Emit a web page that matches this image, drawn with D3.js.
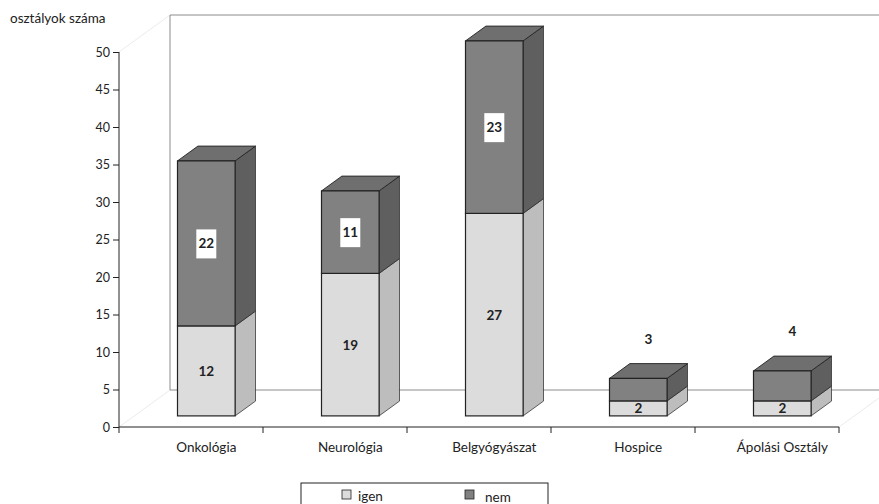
<!DOCTYPE html>
<html>
<head>
<meta charset="utf-8">
<script src="https://cdn.jsdelivr.net/npm/d3@7"></script>
<style>
  body { margin: 0; background: #fff; }
  svg { display: block; font-family: Lato, "Open Sans", sans-serif; }
</style>
</head>
<body>
<svg id="chart" width="879" height="504"></svg>
<script>
// data
var categories = ["Onkológia", "Neurológia", "Belgyógyászat", "Hospice", "Ápolási Osztály"]
var igen = [12, 19, 27, 2, 2]
var nem = [22, 11, 23, 3, 4]
var yTicks = [0, 5, 10, 15, 20, 25, 30, 35, 40, 45, 50]
var seriesNames = ["igen", "nem"]

var svg = d3.select("#chart")

// plot frame (front plane) and 3d depth
var pl = 119, pr = 839, pt = 52, pb = 427
var depth = { dx: 51, dy: -37 }
// bars sit between 0.3 and 0.7 of the depth
var barOff = { dx: depth.dx * 0.3, dy: depth.dy * 0.3 }
var barDepth = { dx: depth.dx * 0.4, dy: depth.dy * 0.4 }

var x = d3.scaleBand().domain(categories).range([pl, pr])
var y = d3.scaleLinear().domain([0, 50]).range([pb, pt])
var barW = x.bandwidth() * 0.4

var col = {
  igen: { front: "#dcdcdc", side: "#bdbdbd", top: "#c8c8c8" },
  nem: { front: "#818181", side: "#5f5f5f", top: "#6f6f6f" }
}

// walls
var bx = pl + depth.dx, byTop = y(50) + depth.dy, byBot = y(0) + depth.dy
svg.append("line").attr("x1", pl).attr("y1", y(50)).attr("x2", bx).attr("y2", byTop)
  .attr("stroke", "#e6e6e6").attr("stroke-width", 0.8)
svg.append("line").attr("x1", pl).attr("y1", y(0)).attr("x2", bx).attr("y2", byBot)
  .attr("stroke", "#e6e6e6").attr("stroke-width", 0.8)
svg.append("line").attr("x1", pr).attr("y1", y(0)).attr("x2", pr + depth.dx).attr("y2", byBot)
  .attr("stroke", "#e6e6e6").attr("stroke-width", 0.8)
svg.append("path")
  .attr("d", "M" + (pr + depth.dx) + "," + byTop + " L" + bx + "," + byTop + " L" + bx + "," + byBot + " L" + (pr + depth.dx) + "," + byBot)
  .attr("fill", "none").attr("stroke", "#8c8c8c").attr("stroke-width", 1)

// y axis
var ya = svg.append("g").attr("transform", "translate(" + pl + ",0)")
  .call(d3.axisLeft(y).tickValues(yTicks).tickSize(6).tickPadding(3))
ya.select(".domain").attr("stroke", "#222").attr("d", "M0," + y(50) + "V" + y(0))
ya.selectAll(".tick line").attr("stroke", "#222")
ya.selectAll("text").attr("font-size", 12.5).attr("fill", "#222")
  .attr("font-family", "Lato, 'Open Sans', sans-serif")

// x axis with ticks at the category boundaries
var xa = svg.append("g").attr("transform", "translate(0," + pb + ")")
xa.append("line").attr("x1", pl).attr("x2", pr).attr("stroke", "#222")
xa.selectAll(".bt").data(categories.concat([null])).join("line")
  .attr("class", "bt")
  .attr("x1", (d, i) => pl + i * x.step()).attr("x2", (d, i) => pl + i * x.step())
  .attr("y1", 0).attr("y2", 6).attr("stroke", "#222")
xa.selectAll(".cl").data(categories).join("text")
  .attr("class", "cl")
  .attr("x", d => x(d) + x.bandwidth() / 2 + barOff.dx)
  .attr("y", 25)
  .attr("text-anchor", "middle").attr("font-size", 13.5).attr("fill", "#222")
  .text(d => d)

svg.append("text").attr("x", 10).attr("y", 23).attr("font-size", 13.5).attr("fill", "#222")
  .text("osztályok száma")

// bars
function seg(g, i, v0, v1, c, withTop) {
  var x0 = x(categories[i]) + (x.bandwidth() - barW) / 2 + barOff.dx
  var x1 = x0 + barW
  var y0 = y(v0) + barOff.dy, y1 = y(v1) + barOff.dy
  var dx = barDepth.dx, dy = barDepth.dy
  g.append("polygon")
    .attr("points", [[x1, y0], [x1 + dx, y0 + dy], [x1 + dx, y1 + dy], [x1, y1]].join(" "))
    .attr("fill", c.side).attr("stroke", "#222").attr("stroke-width", 0.7)
  if (withTop) {
    g.append("polygon")
      .attr("points", [[x0, y1], [x0 + dx, y1 + dy], [x1 + dx, y1 + dy], [x1, y1]].join(" "))
      .attr("fill", c.top).attr("stroke", "#222").attr("stroke-width", 0.9)
  }
  g.append("rect").attr("x", x0).attr("y", y1).attr("width", barW).attr("height", y0 - y1)
    .attr("fill", c.front).attr("stroke", "#222").attr("stroke-width", 1.2)
  return { cx: (x0 + x1) / 2, cy: (y0 + y1) / 2, top: y1 + dy, h: y0 - y1 }
}

var bars = svg.append("g")
categories.forEach(function (c, i) {
  var g = bars.append("g")
  var a = seg(g, i, 0, igen[i], col.igen, false)
  var b = seg(g, i, igen[i], igen[i] + nem[i], col.nem, true)
  g.append("text").attr("x", a.cx).attr("y", a.cy + 5)
    .attr("text-anchor", "middle").attr("font-size", 13.5).attr("font-weight", "bold")
    .attr("fill", "#222").text(igen[i])
  if (b.h > 40) {
    g.append("rect").attr("x", b.cx - 10).attr("y", b.cy - 14).attr("width", 20).attr("height", 29)
      .attr("fill", "#fff")
    g.append("text").attr("x", b.cx).attr("y", b.cy + 5)
      .attr("text-anchor", "middle").attr("font-size", 13.5).attr("font-weight", "bold")
      .attr("fill", "#222").text(nem[i])
  } else {
    g.append("text").attr("x", b.cx + barDepth.dx / 2).attr("y", b.top - 20)
      .attr("text-anchor", "middle").attr("font-size", 13.5).attr("font-weight", "bold")
      .attr("fill", "#222").text(nem[i])
  }
})

// legend
var lg = svg.append("g").attr("transform", "translate(301,483)")
lg.append("rect").attr("x", 0).attr("y", 0).attr("width", 247).attr("height", 30)
  .attr("fill", "#fff").attr("stroke", "#222").attr("stroke-width", 1)
var li = lg.selectAll(".li").data(seriesNames).join("g")
  .attr("class", "li")
  .attr("transform", (d, i) => "translate(" + (41 + i * 123) + ",0)")
li.append("rect").attr("x", 0).attr("y", 7).attr("width", 9).attr("height", 9)
  .attr("fill", d => col[d].front).attr("stroke", "#222").attr("stroke-width", 0.8)
li.append("text").attr("x", (d, i) => i ? 20 : 16).attr("y", (d, i) => i ? 19 : 18)
  .attr("font-size", 13.5).attr("fill", "#222").text(d => d)
</script>
</body>
</html>
